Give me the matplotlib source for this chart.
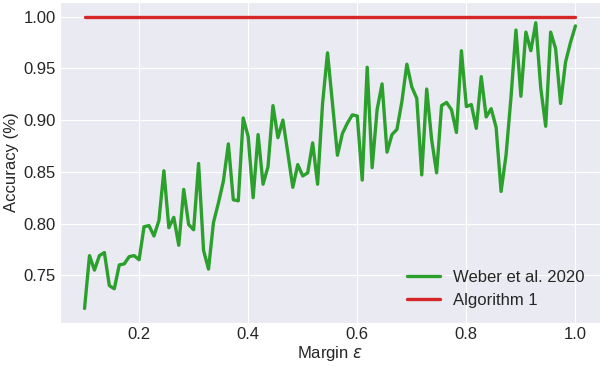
import numpy as np
import matplotlib
matplotlib.use('Agg')
import matplotlib.pyplot as plt
import seaborn as sns


# ------------- Data ------------- #

margin = np.linspace(0.1, 1.0, 100)

acc_weber = [
    0.718, 0.769, 0.755, 0.769, 0.772, 0.740, 0.737, 0.760, 0.761, 0.768,
    0.769, 0.765, 0.797, 0.798, 0.788, 0.803, 0.851, 0.796, 0.806, 0.779,
    0.833, 0.799, 0.794, 0.858, 0.774, 0.756, 0.801, 0.820, 0.841, 0.877,
    0.823, 0.822, 0.902, 0.884, 0.825, 0.886, 0.838, 0.855, 0.914, 0.883,
    0.900, 0.868, 0.835, 0.857, 0.846, 0.849, 0.878, 0.838, 0.916, 0.965,
    0.916, 0.866, 0.887, 0.897, 0.905, 0.904, 0.842, 0.951, 0.854, 0.910,
    0.935, 0.869, 0.886, 0.891, 0.918, 0.954, 0.932, 0.921, 0.847, 0.930,
    0.881, 0.849, 0.914, 0.917, 0.910, 0.888, 0.967, 0.913, 0.915, 0.892,
    0.942, 0.903, 0.911, 0.893, 0.831, 0.866, 0.922, 0.987, 0.923, 0.985,
    0.967, 0.994, 0.931, 0.894, 0.985, 0.969, 0.916, 0.956, 0.975, 0.991,
]

acc_alg1 = [1.0] * len(margin)

labels = ['Weber et al. 2020', 'Algorithm 1']


# ---------------- Style ---------------- #

sns.set_style('darkgrid')
plt.rcParams['font.family'] = ['Liberation Sans', 'DejaVu Sans']
fs = 12


# --------------- Visualization --------------- #

fig = plt.figure(figsize=(6.02, 3.66), dpi=100)
ax = fig.add_subplot(1, 1, 1)
fig.subplots_adjust(left=60/602, right=600/602, bottom=1-323/366, top=1-2/366)

ax.plot(margin, acc_weber, color='#2ca02c', lw=2.4, label=labels[0])
ax.plot(margin, acc_alg1, color='#d62728', lw=2.4, label=labels[1])

ax.set_xticks([0.2, 0.4, 0.6, 0.8, 1.0])
ax.set_yticks([0.75, 0.80, 0.85, 0.90, 0.95, 1.00])
ax.set_yticklabels(['%.2f' % v for v in [0.75, 0.80, 0.85, 0.90, 0.95, 1.00]])
ax.tick_params(labelsize=fs, length=0, pad=3)
ax.set_xlabel(r'Margin $\varepsilon$', fontsize=fs, labelpad=1)
ax.set_ylabel('Accuracy (%)', fontsize=fs, labelpad=3)
ax.legend(loc='lower right', frameon=False, fontsize=fs)

plt.savefig('out.png', dpi=100)
